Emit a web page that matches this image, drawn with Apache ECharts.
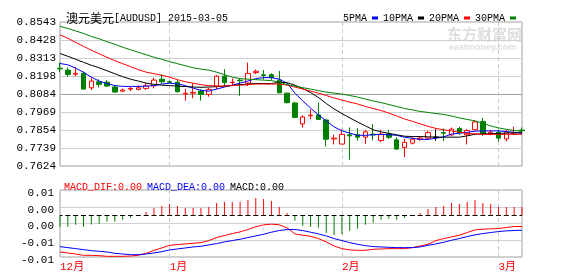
<!DOCTYPE html>
<html><head><meta charset="utf-8">
<script src="https://cdn.jsdelivr.net/npm/echarts@6/dist/echarts.min.js"></script>
<style>html,body{margin:0;padding:0;background:#fff}#c{width:578px;height:276px}</style>
</head><body><div id="c"></div>
<script>
const dates = ['12-12','12-15','12-16','12-17','12-18','12-19','12-22','12-23','12-24','12-25','12-26','12-29','12-30','12-31',
'01-01','01-02','01-05','01-06','01-07','01-08','01-09','01-12','01-13','01-14','01-15','01-16','01-19','01-20','01-21','01-22','01-23','01-26','01-27','01-28','01-29','01-30',
'02-02','02-03','02-04','02-05','02-06','02-09','02-10','02-11','02-12','02-13','02-16','02-17','02-18','02-19','02-20','02-23','02-24','02-25','02-26','02-27',
'03-02','03-03','03-04','03-05'];
const monthIdx = [0, 14, 36, 56];
const monthLabels = ['12月', '1月', '2月', '3月'];
const priceTicks = ['0.7624','0.7739','0.7854','0.7969','0.8084','0.8198','0.8313','0.8428','0.8543'];
const macdTicks = ['-0.01','-0.01','0.00','0.00','0.01'];
// [open, close, low, high]
const ohlc = [
[0.8248,0.8244,0.8221,0.8284],[0.8236,0.8208,0.8193,0.8253],[0.8210,0.8215,0.8197,0.8256],[0.8216,0.8115,0.8109,0.8225],
[0.8123,0.8166,0.8109,0.8187],[0.8161,0.8145,0.8126,0.8178],[0.8159,0.8134,0.8128,0.8172],[0.8128,0.8096,0.8091,0.8140],
[0.8102,0.8109,0.8096,0.8118],[0.8115,0.8119,0.8102,0.8128],[0.8113,0.8123,0.8107,0.8138],[0.8119,0.8136,0.8109,0.8153],
[0.8136,0.8172,0.8119,0.8187],[0.8178,0.8161,0.8151,0.8210],[0.8162,0.8158,0.8150,0.8170],[0.8159,0.8098,0.8093,0.8175],
[0.8083,0.8088,0.8041,0.8117],[0.8089,0.8094,0.8056,0.8151],[0.8102,0.8081,0.8041,0.8113],[0.8081,0.8113,0.8066,0.8123],
[0.8134,0.8197,0.8113,0.8204],[0.8197,0.8156,0.8131,0.8242],[0.8156,0.8159,0.8140,0.8183],[0.8172,0.8168,0.8072,0.8183],
[0.8153,0.8215,0.8134,0.8284],[0.8220,0.8229,0.8210,0.8239],[0.8206,0.8202,0.8176,0.8236],[0.8207,0.8188,0.8172,0.8216],
[0.8172,0.8091,0.8089,0.8231],[0.8089,0.8028,0.8024,0.8091],[0.8026,0.7934,0.7929,0.8035],[0.7893,0.7937,0.7869,0.7947],
[0.7945,0.7948,0.7922,0.7985],[0.7950,0.7921,0.7918,0.8029],[0.7918,0.7795,0.7748,0.7922],[0.7797,0.7802,0.7762,0.7823],
[0.7764,0.7826,0.7764,0.7859],[0.7823,0.7816,0.7664,0.7870],[0.7823,0.7808,0.7785,0.7865],[0.7808,0.7842,0.7764,0.7855],
[0.7827,0.7823,0.7788,0.7891],[0.7787,0.7827,0.7775,0.7855],[0.7829,0.7807,0.7797,0.7855],[0.7791,0.7732,0.7728,0.7808],
[0.7743,0.7775,0.7680,0.7797],[0.7770,0.7795,0.7762,0.7810],[0.7795,0.7802,0.7785,0.7812],[0.7802,0.7837,0.7791,0.7848],
[0.7808,0.7808,0.7785,0.7859],[0.7837,0.7834,0.7783,0.7864],[0.7823,0.7859,0.7813,0.7870],[0.7863,0.7835,0.7823,0.7874],
[0.7823,0.7851,0.7762,0.7859],[0.7856,0.7905,0.7855,0.7916],[0.7907,0.7829,0.7816,0.7931],[0.7829,0.7839,0.7820,0.7855],
[0.7839,0.7802,0.7781,0.7855],[0.7797,0.7839,0.7781,0.7855],[0.7834,0.7837,0.7823,0.7874],[0.7853,0.7849,0.7834,0.7870]];
const ma5 = [0.8278,0.8270,0.8248,0.8223,0.8191,0.8166,0.8150,0.8137,0.8132,0.8132,
0.8132,0.8134,0.8137,0.8147,0.8153,0.8148,0.8137,0.8121,0.8107,0.8102,
0.8115,0.8128,0.8140,0.8153,0.8166,0.8182,0.8188,0.8188,0.8178,0.8153,
0.8089,0.8039,0.7994,0.7950,0.7912,0.7874,0.7848,0.7834,0.7820,0.7820,
0.7823,0.7826,0.7823,0.7820,0.7807,0.7801,0.7794,0.7794,0.7801,0.7810,
0.7827,0.7834,0.7839,0.7846,0.7848,0.7848,0.7848,0.7844,0.7839,0.7832];
const ma10 = [0.8342,0.8324,0.8305,0.8286,0.8267,0.8251,0.8232,0.8213,0.8194,0.8178,
0.8166,0.8153,0.8145,0.8140,0.8137,0.8134,0.8131,0.8128,0.8126,0.8128,
0.8130,0.8134,0.8138,0.8143,0.8147,0.8151,0.8150,0.8150,0.8159,0.8156,
0.8140,0.8118,0.8093,0.8061,0.8023,0.7988,0.7959,0.7931,0.7905,0.7880,
0.7855,0.7842,0.7832,0.7823,0.7814,0.7812,0.7812,0.7810,0.7808,0.7808,
0.7808,0.7808,0.7816,0.7827,0.7829,0.7830,0.7832,0.7834,0.7835,0.7837];
const ma20 = [0.8461,0.8439,0.8413,0.8388,0.8363,0.8340,0.8318,0.8296,0.8277,0.8258,
0.8239,0.8223,0.8213,0.8203,0.8191,0.8175,0.8162,0.8153,0.8143,0.8137,
0.8134,0.8134,0.8137,0.8140,0.8143,0.8147,0.8147,0.8147,0.8147,0.8140,
0.8128,0.8115,0.8102,0.8089,0.8074,0.8058,0.8045,0.8032,0.8020,0.8004,
0.7991,0.7978,0.7962,0.7943,0.7924,0.7909,0.7893,0.7877,0.7864,0.7855,
0.7848,0.7839,0.7832,0.7829,0.7826,0.7826,0.7826,0.7826,0.7826,0.7826];
const ma30 = [0.8515,0.8502,0.8486,0.8470,0.8451,0.8436,0.8417,0.8401,0.8382,0.8366,
0.8350,0.8334,0.8318,0.8305,0.8290,0.8277,0.8264,0.8251,0.8242,0.8236,
0.8223,0.8207,0.8191,0.8182,0.8178,0.8175,0.8172,0.8169,0.8159,0.8143,
0.8134,0.8124,0.8115,0.8105,0.8096,0.8089,0.8083,0.8074,0.8064,0.8051,
0.8039,0.8029,0.8016,0.8004,0.7991,0.7982,0.7972,0.7966,0.7959,0.7953,
0.7943,0.7931,0.7921,0.7912,0.7896,0.7880,0.7867,0.7858,0.7851,0.7845];
const dif = [-0.0088,-0.00904,-0.00928,-0.0096,-0.0096,-0.00968,-0.00984,-0.00984,-0.00984,-0.00976,
-0.0096,-0.00912,-0.0084,-0.00784,-0.0072,-0.00704,-0.00688,-0.00672,-0.00656,-0.00608,
-0.00536,-0.00488,-0.0044,-0.004,-0.00344,-0.0028,-0.00232,-0.00216,-0.00232,-0.00304,
-0.00448,-0.0048,-0.00504,-0.0056,-0.0064,-0.00736,-0.008,-0.00832,-0.0084,-0.0084,
-0.00816,-0.00808,-0.008,-0.008,-0.008,-0.00776,-0.00736,-0.00696,-0.00608,-0.0056,
-0.0052,-0.0048,-0.00416,-0.00352,-0.00336,-0.00328,-0.0032,-0.00296,-0.00272,-0.00272];
const dea = [-0.00752,-0.00776,-0.008,-0.00824,-0.00848,-0.00864,-0.0088,-0.00912,-0.00928,-0.00944,
-0.00944,-0.00928,-0.00904,-0.00872,-0.00832,-0.00808,-0.00784,-0.0076,-0.00744,-0.00712,
-0.0068,-0.0064,-0.00608,-0.00576,-0.00536,-0.00496,-0.00456,-0.00408,-0.00368,-0.00344,
-0.00344,-0.00368,-0.00408,-0.00448,-0.00496,-0.0056,-0.00608,-0.00656,-0.00696,-0.00728,
-0.00752,-0.0076,-0.00768,-0.00776,-0.00776,-0.00776,-0.0076,-0.0072,-0.00688,-0.00648,
-0.006,-0.0056,-0.00512,-0.00472,-0.0044,-0.00416,-0.00392,-0.00376,-0.00368,-0.0036];
const macd = [-0.0028,-0.0028,-0.00232,-0.0028,-0.00224,-0.00208,-0.0016,-0.0016,-0.00112,-0.00064,-0.00008,
0.00072,0.00168,0.00216,0.00264,0.00216,0.00168,0.00168,0.00168,0.00192,0.00288,0.00312,0.00312,0.00312,0.0036,0.00408,0.00384,0.00336,0.00192,0.00048,
-0.00136,-0.00256,-0.0028,-0.00304,-0.00424,-0.00472,-0.00448,-0.00376,-0.00328,-0.00232,-0.00184,-0.00112,-0.00088,-0.00112,-0.00064,0,
0.00048,0.00144,0.00192,0.00216,0.00288,0.00264,0.00312,0.0036,0.00288,0.00264,0.00192,0.00192,0.00192,0.00192];

const RED = '#ff0000', GREEN = '#008000', BLUE = '#0000ff', BLACK = '#000000';
const MONO = "'Liberation Mono','Noto Sans CJK SC',monospace";
const pMin = 0.7624, pMax = 0.8543, pInt = (pMax - pMin) / 8;
const mMin = -0.010, mMax = 0.006, mInt = 0.004;

const candleData = ohlc.map(d => d[0] === d[1] ? {value: d, itemStyle: {color: BLACK, color0: BLACK, borderColor: BLACK, borderColor0: BLACK}} : d);
const isMonth = (i) => monthIdx.indexOf(i) >= 0;
const splitX = {show: true, interval: (i) => isMonth(i), lineStyle: {color: '#c8c8c8', type: [4, 3], width: 1}};
const gridColors = ['#d0d0d0','#d0d0d0','#d0d0d0','#d0d0d0','#a0a0a0','#d0d0d0','#d0d0d0','#d0d0d0','#d0d0d0'];
const txt = (size, color) => ({fontFamily: MONO, fontSize: size, fontWeight: 'normal', color: color});

const chart = echarts.init(document.getElementById('c'), null, {renderer: 'canvas'});
chart.setOption({
  animation: false,
  backgroundColor: '#fff',
  title: [
    {left: 61, top: 7, text: '{cn|澳元美元}{en|[AUDUSD] 2015-03-05}',
     textStyle: {fontWeight: 'normal', rich: {cn: {fontFamily: 'Noto Sans CJK SC', fontSize: 12, fontWeight: 'normal', color: '#000'},
                        en: txt(10, '#000')}}},
    {left: 59, top: 173, text: '{r|MACD_DIF:0.00} {b|MACD_DEA:0.00} {k|MACD:0.00}',
     textStyle: {fontWeight: 'normal', rich: {r: txt(10, RED), b: txt(10, BLUE), k: txt(10, BLACK)}}}
  ],
  legend: {top: 8, right: 57, itemWidth: 6, itemHeight: 3, itemGap: 5, align: 'right', icon: 'rect',
    selectedMode: false, textStyle: txt(10, '#000'),
    data: ['5PMA', '10PMA', '20PMA', '30PMA']},
  graphic: [
    {type: 'text', left: 447, top: 27, z: 0, style: {text: '东方财富网', fontSize: 15, fontWeight: 'bold', fill: '#dedede', fontFamily: 'Noto Sans CJK SC'}},
    {type: 'text', left: 449, top: 43, z: 0, style: {text: 'eastmoney.com', fontSize: 9, fontWeight: 'bold', fill: '#dedede', fontFamily: 'Liberation Sans'}}
  ],
  grid: [
    {left: 60, top: 22, width: 462, height: 144, show: true, borderColor: '#a0a0a0', borderWidth: 1, backgroundColor: 'transparent'},
    {left: 60, top: 190, width: 462, height: 67, show: true, borderColor: '#a0a0a0', borderWidth: 1, backgroundColor: 'transparent'}
  ],
  xAxis: [
    {type: 'category', gridIndex: 0, data: dates, boundaryGap: false, axisLine: {show: false}, axisTick: {show: false},
     axisLabel: {show: false}, splitLine: splitX},
    {type: 'category', gridIndex: 1, data: dates, boundaryGap: false, axisLine: {show: false}, axisTick: {show: false},
     axisLabel: Object.assign({show: true, interval: (i) => isMonth(i), formatter: (v, i) => monthLabels[monthIdx.indexOf(i)],
       align: 'left', margin: 5}, txt(11, RED)), splitLine: splitX}
  ],
  yAxis: [
    {type: 'value', gridIndex: 0, min: pMin, max: pMax, interval: pInt, axisLine: {show: false}, axisTick: {show: false},
     axisLabel: Object.assign({formatter: (v) => priceTicks[Math.round((v - pMin) / pInt)], margin: 4}, txt(11, '#000')),
     splitLine: {show: true, lineStyle: {color: gridColors, width: 1}}},
    {type: 'value', gridIndex: 1, min: mMin, max: mMax, interval: mInt, axisLine: {show: false}, axisTick: {show: false},
     axisLabel: Object.assign({formatter: (v) => macdTicks[Math.round((v - mMin) / mInt)], margin: 6, verticalAlign: 'top', lineHeight: 6}, txt(11, '#000')),
     splitLine: {show: true, lineStyle: {color: '#d0d0d0', width: 1}}}
  ],
  series: [
    {type: 'candlestick', name: 'K', xAxisIndex: 0, yAxisIndex: 0, data: candleData, barWidth: 5, clip: false, z: 2,
     itemStyle: {color: '#ffffff', color0: GREEN, borderColor: RED, borderColor0: GREEN, borderWidth: 1}},
    {type: 'line', name: '5PMA', xAxisIndex: 0, yAxisIndex: 0, data: ma5, symbol: 'none', z: 3, color: BLUE, lineStyle: {width: 1, color: BLUE}},
    {type: 'line', name: '10PMA', xAxisIndex: 0, yAxisIndex: 0, data: ma10, symbol: 'none', z: 3, color: BLACK, lineStyle: {width: 1, color: BLACK}},
    {type: 'line', name: '20PMA', xAxisIndex: 0, yAxisIndex: 0, data: ma20, symbol: 'none', z: 3, color: RED, lineStyle: {width: 1, color: RED}},
    {type: 'line', name: '30PMA', xAxisIndex: 0, yAxisIndex: 0, data: ma30, symbol: 'none', z: 3, color: GREEN, lineStyle: {width: 1, color: GREEN}},
    {type: 'bar', name: 'MACD', xAxisIndex: 1, yAxisIndex: 1, data: macd, barWidth: 1,
     itemStyle: {color: (p) => p.value >= 0 ? RED : GREEN},
     markLine: {silent: true, symbol: ['none', 'none'], label: {show: false}, animation: false,
       lineStyle: {color: BLACK, type: [5, 2.83], width: 1, dashOffset: 2.5}, data: [{yAxis: 0}]}},
    {type: 'line', name: 'DIF', xAxisIndex: 1, yAxisIndex: 1, data: dif, symbol: 'none', z: 3, lineStyle: {width: 1, color: RED}},
    {type: 'line', name: 'DEA', xAxisIndex: 1, yAxisIndex: 1, data: dea, symbol: 'none', z: 3, lineStyle: {width: 1, color: BLUE}}
  ]
});
</script></body></html>
